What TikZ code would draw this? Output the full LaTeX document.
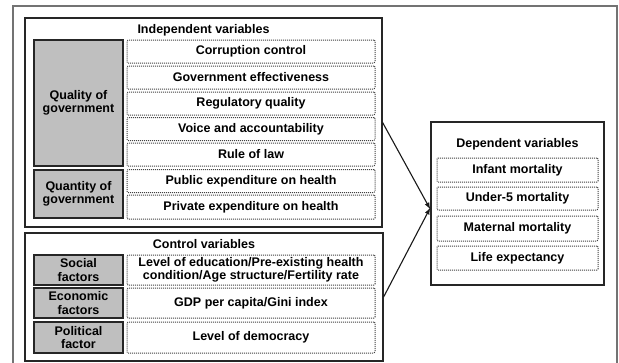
\documentclass[tikz,border=0pt]{standalone}
\usepackage{fontspec}
\setmainfont{Liberation Sans}
\usetikzlibrary{arrows.meta}
\begin{document}
\begin{tikzpicture}[x=1pt,y=-1pt,
  txt/.style={font=\bfseries\fontsize{12.5}{13.4}\selectfont, align=center, inner sep=0pt},
  greybox/.style={txt, draw=black!85, line width=1.2pt, fill=black!25, minimum width=89pt},
  dotbox/.style={txt, draw=black!75, densely dotted, line width=1pt, rounded corners=1pt},
  mainbox/.style={draw=black!85, line width=1.2pt, inner sep=0pt},
  arr/.style={-{Latex[length=7pt,width=5pt]}, line width=1.1pt, black!90}
]
\useasboundingbox (0,0) rectangle (619,362);
\fill[white] (0,0) rectangle (619,362);
% outer frame (open at bottom)
\begin{scope}
\clip (0,0) rectangle (619,362);
\draw[black!55, line width=1.6pt] (13,370) -- (13,6) -- (617,6) -- (617,370);
\end{scope}

% Independent variables box
\node[mainbox, minimum width=357pt, minimum height=209pt] (ind) at (203.5,122.5) {};
\node[txt] (indt) at (203.5,30) {Independent variables};
\node[greybox, minimum height=126pt] (qual) at (78.5,103) {Quality of\\government};
\node[greybox, minimum height=48pt] (quan) at (78.5,194) {Quantity of\\government};
\node[dotbox, minimum width=248pt, minimum height=23pt] (cc) at (251,51.5) {Corruption control};
\node[dotbox, minimum width=248pt, minimum height=23pt] (ge) at (251,77.5) {Government effectiveness};
\node[dotbox, minimum width=248pt, minimum height=23pt] (rq) at (251,103.5) {Regulatory quality};
\node[dotbox, minimum width=248pt, minimum height=23pt] (va) at (251,129) {Voice and accountability};
\node[dotbox, minimum width=248pt, minimum height=23pt] (rl) at (251,154.5) {Rule of law};
\node[dotbox, minimum width=248pt, minimum height=23pt] (pub) at (251,181) {Public expenditure on health};
\node[dotbox, minimum width=248pt, minimum height=24pt] (priv) at (251,207) {Private expenditure on health};

% Control variables box
\node[mainbox, minimum width=358pt, minimum height=128pt] (ctl) at (204,297) {};
\node[txt] (ctlt) at (204,244) {Control variables};
\node[greybox, minimum height=30pt] (soc) at (78.5,270) {Social\\factors};
\node[greybox, minimum height=30pt] (eco) at (78.5,303) {Economic\\factors};
\node[greybox, minimum height=31pt] (pol) at (78.5,337.5) {Political\\factor};
\node[dotbox, minimum width=248pt, minimum height=30pt] (socv) at (251,270) {Level of education/Pre-existing health\\condition/Age structure/Fertility rate};
\node[dotbox, minimum width=248pt, minimum height=30pt] (gdp) at (251,303) {GDP per capita/Gini index};
\node[dotbox, minimum width=248pt, minimum height=31pt] (dem) at (251,337.5) {Level of democracy};

% Dependent variables box
\node[mainbox, minimum width=173pt, minimum height=163pt] (dep) at (517.5,203.5) {};
\node[txt] (dept) at (517.5,144) {Dependent variables};
\node[dotbox, minimum width=161pt, minimum height=24pt] (inf) at (517.5,170) {Infant mortality};
\node[dotbox, minimum width=161pt, minimum height=23pt] (u5) at (517.5,198.5) {Under-5 mortality};
\node[dotbox, minimum width=161pt, minimum height=25pt] (mat) at (517.5,228.5) {Maternal mortality};
\node[dotbox, minimum width=161pt, minimum height=24pt] (life) at (517.5,258) {Life expectancy};

% arrows
\draw[arr] (ind.east) -- ([yshift=-6pt]dep.west);
\draw[arr] (ctl.east) -- ([yshift=-4pt]dep.west);
\end{tikzpicture}
\end{document}
